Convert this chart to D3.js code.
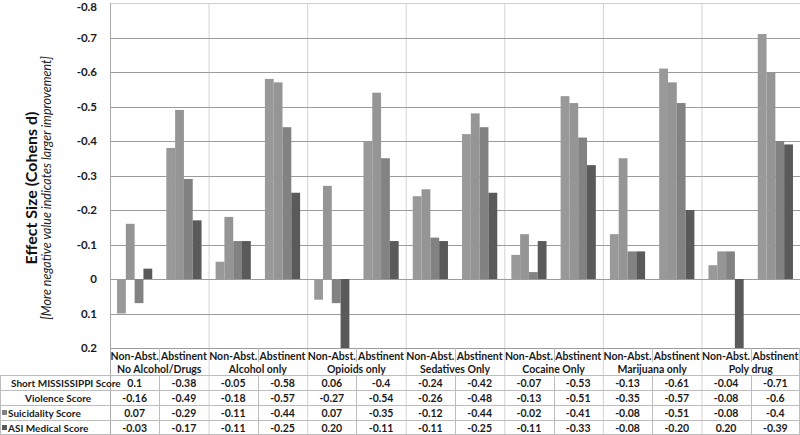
<!DOCTYPE html>
<html>
<head>
<meta charset="utf-8">
<script src="https://cdn.jsdelivr.net/npm/d3@7"></script>
<style>
  body { margin: 0; background: #fff; }
  svg { display: block; font-family: Lato, "Open Sans", sans-serif; }
  .tick-lbl, .cell, .rowlbl, .hdr { font-size: 10.5px; font-weight: bold; fill: #1a1a1a; }
</style>
</head>
<body>
<div id="chart"></div>
<script>
// chart values
var groups = ["No Alcohol/Drugs", "Alcohol only", "Opioids only", "Sedatives Only", "Cocaine Only", "Marijuana only", "Poly drug"];
var subgroups = ["Non-Abst.", "Abstinent"];
var seriesNames = ["Short MISSISSIPPI Score", "Violence Score", "Suicidality Score", "ASI Medical Score"];

// table text as printed (bars use the same numbers)
var shortScore = ["0.1", "-0.38", "-0.05", "-0.58", "0.06", "-0.4", "-0.24", "-0.42", "-0.07", "-0.53", "-0.13", "-0.61", "-0.04", "-0.71"];
var violenceScore = ["-0.16", "-0.49", "-0.18", "-0.57", "-0.27", "-0.54", "-0.26", "-0.48", "-0.13", "-0.51", "-0.35", "-0.57", "-0.08", "-0.6"];
var suicidalityScore = ["0.07", "-0.29", "-0.11", "-0.44", "0.07", "-0.35", "-0.12", "-0.44", "-0.02", "-0.41", "-0.08", "-0.51", "-0.08", "-0.4"];
var asiScore = ["-0.03", "-0.17", "-0.11", "-0.25", "0.20", "-0.11", "-0.11", "-0.25", "-0.11", "-0.33", "-0.08", "-0.20", "0.20", "-0.39"];

var yTicks = [-0.8, -0.7, -0.6, -0.5, -0.4, -0.3, -0.2, -0.1, 0, 0.1, 0.2];
var yTickLabels = ["-0.8", "-0.7", "-0.6", "-0.5", "-0.4", "-0.3", "-0.2", "-0.1", "0", "0.1", "0.2"];

var allSeries = [shortScore, violenceScore, suicidalityScore, asiScore];
var colors = ["#999999", "#959595", "#828282", "#5a5a5a"];

var width = 800, height = 435;
var plotLeft = 110, plotRight = 800, plotTop = 3, plotBottom = 348;

// categories: every group has Non-Abst. + Abstinent
var cats = [];
groups.forEach(function(g, gi) {
    subgroups.forEach(function(s, si) {
        cats.push({ key: gi + "_" + si, group: g, sub: s, idx: gi * 2 + si });
    });
});

var svg = d3.select("#chart").append("svg")
    .attr("width", width)
    .attr("height", height);

var x0 = d3.scaleBand()
    .domain(cats.map(function(d) { return d.key; }))
    .range([plotLeft, plotRight]);

var xg = d3.scaleBand()
    .domain(groups)
    .range([plotLeft, plotRight]);

var x1 = d3.scaleBand()
    .domain(seriesNames)
    .range([0, x0.bandwidth()])
    .paddingOuter(0.8)
    .paddingInner(0);

var y = d3.scaleLinear()
    .domain([-0.8, 0.2])
    .range([plotTop, plotBottom]);

// vertical group lines
svg.append("g").selectAll("line")
    .data(groups.slice(1))
    .enter().append("line")
    .attr("x1", function(d) { return xg(d) + 0.5; })
    .attr("x2", function(d) { return xg(d) + 0.5; })
    .attr("y1", plotTop)
    .attr("y2", height)
    .attr("stroke", "#d4d4d4");

// horizontal grid
svg.append("g").selectAll("line")
    .data(yTicks)
    .enter().append("line")
    .attr("x1", plotLeft)
    .attr("x2", plotRight)
    .attr("y1", function(d) { return Math.round(y(d)) + 0.5; })
    .attr("y2", function(d) { return Math.round(y(d)) + 0.5; })
    .attr("stroke", function(d, i) { return i == 0 ? "#cfcfcf" : "#9c9c9c"; });

// y axis line
svg.append("line")
    .attr("x1", plotLeft + 0.5).attr("x2", plotLeft + 0.5)
    .attr("y1", plotTop).attr("y2", height)
    .attr("stroke", "#a8a8a8");

// y tick labels
svg.append("g").selectAll("text")
    .data(yTicks)
    .enter().append("text")
    .attr("class", "tick-lbl")
    .attr("x", 97)
    .attr("y", function(d) { return Math.max(y(d), 7); })
    .attr("dy", "0.35em")
    .style("font-size", "11.5px")
    .style("text-anchor", "end")
    .text(function(d, i) { return yTickLabels[i]; });

// bars
var barG = svg.append("g").selectAll("g")
    .data(cats)
    .enter().append("g")
    .attr("transform", function(d) { return "translate(" + x0(d.key) + ",0)"; });

barG.selectAll("rect")
    .data(function(c) {
        return seriesNames.map(function(s, si) { return { s: s, si: si, v: +allSeries[si][c.idx] }; });
    })
    .enter().append("rect")
    .attr("x", function(d) { return x1(d.s); })
    .attr("width", x1.bandwidth())
    .attr("y", function(d) { return Math.min(y(d.v), y(0)); })
    .attr("height", function(d) { return Math.abs(y(d.v) - y(0)); })
    .attr("fill", function(d) { return colors[d.si]; });

// data table
var hdr1 = 356, hdr2 = 369, rowTop = 375, rowH = 15;
var lineCol = "#bdbdbd";

// category dividers in header line 1
svg.append("g").selectAll("line")
    .data(cats.filter(function(d) { return d.idx % 2 == 1; }))
    .enter().append("line")
    .attr("x1", function(d) { return Math.round(x0(d.key)) + 0.5; })
    .attr("x2", function(d) { return Math.round(x0(d.key)) + 0.5; })
    .attr("y1", plotBottom)
    .attr("y2", 362)
    .attr("stroke", lineCol);

// category dividers in body
svg.append("g").selectAll("line")
    .data(cats.filter(function(d) { return d.idx % 2 == 1; }))
    .enter().append("line")
    .attr("x1", function(d) { return Math.round(x0(d.key)) + 0.5; })
    .attr("x2", function(d) { return Math.round(x0(d.key)) + 0.5; })
    .attr("y1", rowTop)
    .attr("y2", height)
    .attr("stroke", lineCol);

// horizontal table lines
svg.append("g").selectAll("line")
    .data(d3.range(5))
    .enter().append("line")
    .attr("x1", 0)
    .attr("x2", width)
    .attr("y1", function(i) { return Math.min(rowTop + i * rowH, height - 1) + 0.5; })
    .attr("y2", function(i) { return Math.min(rowTop + i * rowH, height - 1) + 0.5; })
    .attr("stroke", lineCol);

svg.append("line")
    .attr("x1", 0.5).attr("x2", 0.5)
    .attr("y1", rowTop).attr("y2", height)
    .attr("stroke", lineCol);
svg.append("line")
    .attr("x1", width - 0.5).attr("x2", width - 0.5)
    .attr("y1", plotBottom).attr("y2", height)
    .attr("stroke", lineCol);

// header texts
svg.append("g").selectAll("text")
    .data(cats)
    .enter().append("text")
    .attr("class", "hdr")
    .attr("x", function(d) { return x0(d.key) + x0.bandwidth() / 2; })
    .attr("y", hdr1)
    .attr("dy", "0.35em")
    .style("text-anchor", "middle")
    .text(function(d) { return d.sub; });

svg.append("g").selectAll("text")
    .data(groups)
    .enter().append("text")
    .attr("class", "hdr")
    .attr("x", function(d) { return xg(d) + xg.bandwidth() / 2; })
    .attr("y", hdr2)
    .attr("dy", "0.35em")
    .style("text-anchor", "middle")
    .text(function(d) { return d; });

// row labels + legend keys
var labelX = [11, 25, 8, 8];
seriesNames.forEach(function(name, si) {
    var cy = rowTop + si * rowH + rowH / 2 + 0.5;
    if (si >= 2) {
        svg.append("rect")
            .attr("x", 2).attr("y", cy - 3)
            .attr("width", 5).attr("height", 5)
            .attr("fill", colors[si]);
    }
    svg.append("text")
        .attr("class", "rowlbl")
        .attr("x", labelX[si])
        .attr("y", cy)
        .attr("dy", "0.35em")
        .style("font-size", "10px")
        .text(name);

    svg.append("g").selectAll("text")
        .data(cats)
        .enter().append("text")
        .attr("class", "cell")
        .attr("x", function(d) { return x0(d.key) + x0.bandwidth() / 2; })
        .attr("y", cy)
        .attr("dy", "0.35em")
        .style("text-anchor", "middle")
        .text(function(d) { return allSeries[si][d.idx]; });
});

// y axis title
svg.append("text")
    .attr("transform", "translate(37,188) rotate(-90)")
    .style("text-anchor", "middle")
    .style("font-size", "16px")
    .style("font-weight", "bold")
    .attr("fill", "#111")
    .text("Effect Size (Cohens d)");

svg.append("text")
    .attr("transform", "translate(51,188) rotate(-90)")
    .style("text-anchor", "middle")
    .style("font-size", "12.5px")
    .style("font-style", "italic")
    .attr("fill", "#222")
    .text("[More negative value indicates larger improvement]");
</script>
</body>
</html>
